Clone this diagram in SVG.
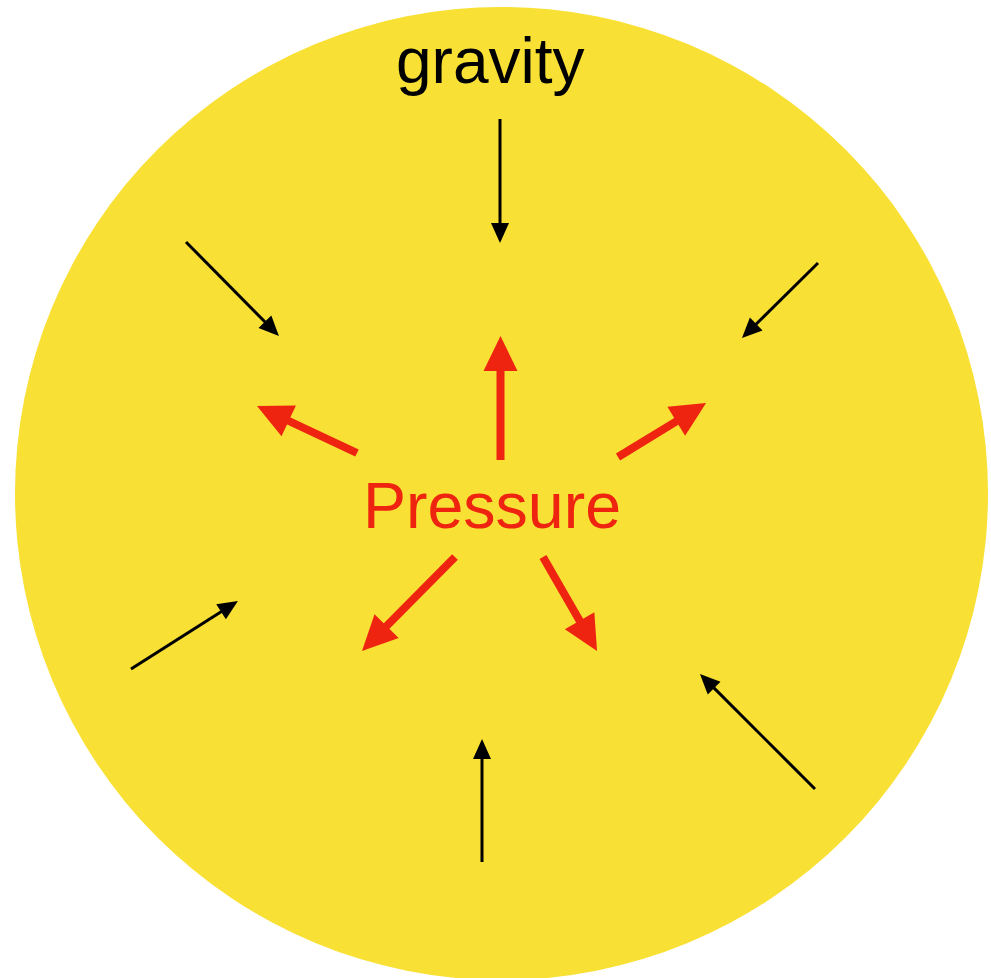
<svg xmlns="http://www.w3.org/2000/svg" width="991" height="978" viewBox="0 0 991 978">
<style>
.blk{stroke:#000;stroke-width:3;fill:none;marker-end:url(#hb)}
.red{stroke:#EE2410;stroke-width:8;fill:none;marker-end:url(#hr)}
.lbl{font-family:"Liberation Sans",Arial,sans-serif;font-size:64px}
</style>
<defs>
<marker id="hb" markerUnits="userSpaceOnUse" markerWidth="22" markerHeight="20" refX="1" refY="9" orient="auto" overflow="visible"><path d="M0,0 L20,9 L0,18 z" fill="#000"/></marker>
<marker id="hr" markerUnits="userSpaceOnUse" markerWidth="38" markerHeight="36" refX="1" refY="17" orient="auto" overflow="visible"><path d="M0,0 L35,17 L0,34 z" fill="#EE2410"/></marker>
</defs>
<g id="star"><circle cx="501.5" cy="493.5" r="486.5" fill="#F9E034"/></g>
<g id="gravity"><text class="lbl" x="396" y="83" fill="#000">gravity</text></g>
<g id="pressure"><text class="lbl" x="363" y="528" fill="#EE2410" style="font-size:64.5px">Pressure</text></g>
<g id="connectors">
<line class="blk" x1="500" y1="119" x2="500" y2="224"/>
<line class="blk" x1="186" y1="242" x2="265.6" y2="322.5"/>
<line class="blk" x1="818" y1="263" x2="755.5" y2="324.7"/>
<line class="blk" x1="131" y1="669" x2="221.9" y2="611.2"/>
<line class="blk" x1="482" y1="862" x2="482" y2="758"/>
<line class="blk" x1="815" y1="789" x2="713.4" y2="687.4"/>
<line class="red" x1="500.5" y1="460" x2="500.5" y2="370"/>
<line class="red" x1="357" y1="453" x2="287.8" y2="420.5"/>
<line class="red" x1="618" y1="457" x2="677.1" y2="420.8"/>
<line class="red" x1="455" y1="557" x2="385.9" y2="626.8"/>
<line class="red" x1="543" y1="557" x2="580.1" y2="621.6"/>
</g>
</svg>
